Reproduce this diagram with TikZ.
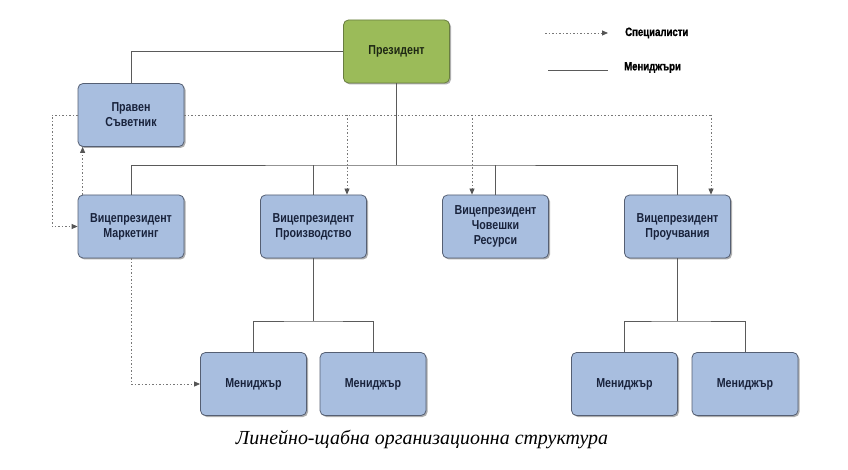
\documentclass[tikz,border=0pt]{standalone}
\usepackage{fontspec}
\usepackage{graphicx}
\usetikzlibrary{arrows.meta,shadows}
\newfontfamily\boxfont[FakeStretch=0.82]{Liberation Sans}
\newfontfamily\legfont[FakeStretch=0.8,FakeBold=1.2]{Liberation Sans}
\newfontfamily\capfont{Liberation Serif}
\definecolor{boxfill}{RGB}{168,190,223}
\definecolor{boxborder}{RGB}{85,95,115}
\definecolor{presfill}{RGB}{155,187,89}
\definecolor{presborder}{RGB}{105,125,65}
\definecolor{txtcol}{RGB}{25,35,60}
\definecolor{linecol}{RGB}{90,90,90}
\definecolor{dotcol}{RGB}{120,120,120}
\definecolor{tipcol}{RGB}{85,85,85}
\tikzset{
  orgbox/.style={draw=boxborder, fill=boxfill, rounded corners=5pt,
    minimum width=106pt, minimum height=63pt, inner sep=0pt, align=center,
    font=\boxfont\bfseries\fontsize{13}{15}\selectfont, text=txtcol, line width=0.8pt,
    drop shadow={shadow xshift=1.5pt, shadow yshift=-1.5pt, opacity=0.45, fill=black!70}},
  presbox/.style={orgbox, draw=presborder, fill=presfill, text={rgb,255:red,30;green,40;blue,20}},
  mgr/.style={draw=linecol, line width=0.9pt},
  spec/.style={draw=dotcol, line width=0.8pt, dash pattern=on 1.5pt off 2pt,
    -{Triangle[length=6pt,width=5pt,color=tipcol,fill=tipcol]}},
  specline/.style={draw=dotcol, line width=0.8pt, dash pattern=on 1.5pt off 2pt},
  legtext/.style={anchor=west, inner sep=0pt, font=\legfont\bfseries\fontsize{12}{12}\selectfont, text=black}
}
\begin{document}
\begin{tikzpicture}[x=1pt,y=-1pt]
\fill[white] (0,0) rectangle (848,470);
\useasboundingbox (0,0) rectangle (848,470);

% nodes
\node[presbox] (pres) at (396.5,51.5) {Президент};
\node[orgbox] (prav) at (131,115) {Правен\\Съветник};
\node[orgbox] (vpm) at (131,226.5) {Вицепрезидент\\Маркетинг};
\node[orgbox] (vpp) at (313.5,226.5) {Вицепрезидент\\Производство};
\node[orgbox] (vphr) at (495.5,226.5) {Вицепрезидент\\Човешки\\Ресурси};
\node[orgbox] (vpt) at (677.5,226.5) {Вицепрезидент\\Проучвания};
\node[orgbox] (m1) at (253.5,384) {Мениджър};
\node[orgbox] (m2) at (373,384) {Мениджър};
\node[orgbox] (m3) at (624.5,384) {Мениджър};
\node[orgbox] (m4) at (745,384) {Мениджър};

% coordinates
\coordinate (bus) at (396.5,165);
\coordinate (j1) at (313.5,321);
\coordinate (j2) at (677.5,321);
\coordinate (l1) at (52,115);
\coordinate (d1) at (347,115);
\coordinate (d2) at (472,115);
\coordinate (d3) at (711,115);

% solid manager lines
\draw[mgr] (pres.west) -| (prav.north);
\draw[mgr] (pres.south) -- (bus);
\draw[mgr] (vpm.north) |- (bus) -| (vpt.north);
\draw[mgr] (vpp.north) -- (vpp.north |- bus);
\draw[mgr] (vphr.north) -- (vphr.north |- bus);
\draw[mgr] (vpp.south) -- (j1);
\draw[mgr] (m1.north) |- (j1) -| (m2.north);
\draw[mgr] (vpt.south) -- (j2);
\draw[mgr] (m3.north) |- (j2) -| (m4.north);

% dotted specialist lines
\draw[specline] (prav.east) -- (d3);
\draw[spec] (d1) -- (d1 |- vpp.north);
\draw[spec] (d2) -- (d2 |- vphr.north);
\draw[spec] (d3) -- (d3 |- vpt.north);
\draw[spec] (prav.west) -- (l1) |- (vpm.west);
\draw[spec] ([xshift=5pt]vpm.north west) -- ([xshift=5pt]prav.south west);
\draw[spec] (vpm.south) |- (m1.west);

% legend
\coordinate (la1) at (545,33);
\coordinate (la2) at (608,33);
\coordinate (lb1) at (548,70);
\coordinate (lb2) at (608,70);
\draw[spec] (la1) -- (la2);
\draw[mgr] (lb1) -- (lb2);
\node[legtext] (lt1) at (625,33) {Специалисти};
\node[legtext] (lt2) at (624,67.5) {Мениджъри};

% caption
\node (cap) at (422,440) {\resizebox{372pt}{!}{\capfont\itshape\fontsize{18}{18}\selectfont Линейно-щабна организационна структура}};
\end{tikzpicture}
\end{document}
